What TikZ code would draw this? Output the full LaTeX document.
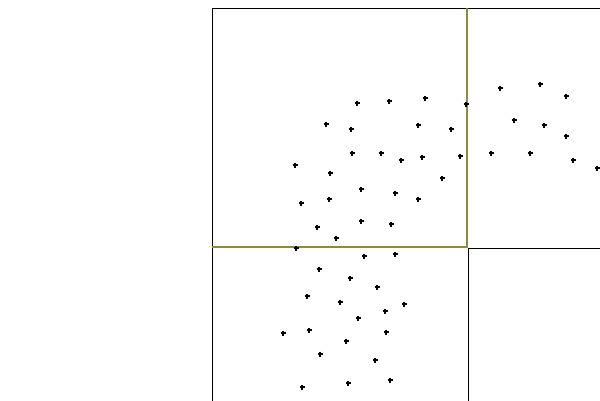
\documentclass[tikz,border=0pt]{standalone}
\usepackage{xcolor}
\usepackage{tikz}
\usetikzlibrary{calc}
\definecolor{QuadOlive}{HTML}{8C8C3C}
\definecolor{QuadDark}{HTML}{000000}
\tikzset{
  cellline/.style={line width=1pt,draw=QuadDark},
  hiline/.style={line width=1.1pt,draw=QuadOlive},
  sample/.style={line width=1.6pt,draw=QuadDark}
}
\begin{document}
\begin{tikzpicture}[x=1pt,y=-1pt]
\useasboundingbox (0,0) rectangle (600,400);
\clip (0,0) rectangle (600,400);
% quadtree cells
\draw[cellline] (212,410) -- (212,8) -- (610,8);
\draw[cellline] (468,410) -- (468,248) -- (610,248);
\draw[hiline] (212,247) -- (467,247) -- (467,8);
% sample points
\foreach \px/\py in {357/103,389/101,425/98,466/104,500/88,540/84,566/96,
  326/124,351/129,418/125,451/129,514/120,544/125,566/136,
  352/153,381/153,401/160,422/157,460/156,491/153,530/153,573/160,597/168,
  295/165,330/173,442/178,361/189,395/193,301/203,329/199,418/199,
  361/221,391/224,317/227,336/238,296/248,364/256,395/254,
  319/269,350/278,377/287,307/296,340/302,404/304,385/311,358/318,
  283/333,309/330,386/332,346/341,320/354,375/360,302/387,348/383,390/380}
{
  \draw[sample] (\px-2.5,\py) -- (\px+2.5,\py);
  \draw[sample] (\px,\py-2.5) -- (\px,\py+2.5);
}
\end{tikzpicture}
\end{document}
